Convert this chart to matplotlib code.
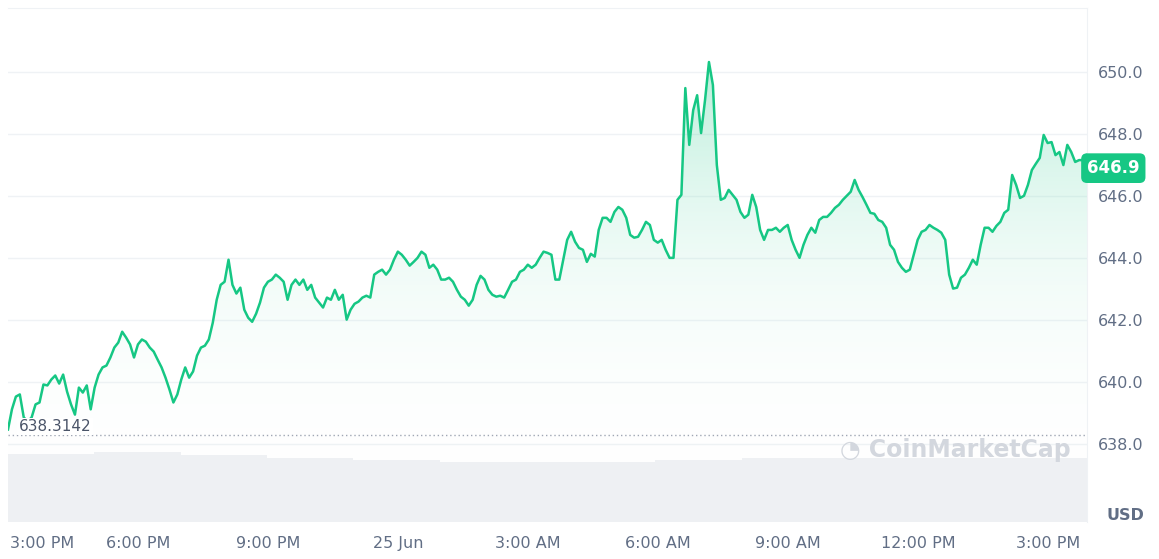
import numpy as np
import matplotlib.pyplot as plt
from matplotlib.patches import Polygon

# price samples, evenly spaced over the ~25h window
price = [638.48, 639.13, 639.54, 639.61, 638.87, 638.74, 638.87, 639.29, 639.35, 639.93,
         639.90, 640.09, 640.22, 639.96, 640.25, 639.70, 639.29, 638.96, 639.83, 639.67,
         639.90, 639.13, 639.83, 640.25, 640.48, 640.54, 640.80, 641.12, 641.28, 641.63,
         641.44, 641.22, 640.80, 641.22, 641.38, 641.31, 641.12, 640.99, 640.73, 640.48,
         640.15, 639.77, 639.35, 639.61, 640.09, 640.48, 640.15, 640.35, 640.86, 641.12,
         641.18, 641.38, 641.92, 642.66, 643.14, 643.24, 643.95, 643.14, 642.86, 643.05,
         642.34, 642.08, 641.95, 642.21, 642.57, 643.05, 643.24, 643.31, 643.47, 643.37,
         643.24, 642.66, 643.14, 643.31, 643.14, 643.31, 642.98, 643.14, 642.73, 642.57,
         642.41, 642.73, 642.66, 642.98, 642.66, 642.82, 642.02, 642.34, 642.53, 642.60,
         642.73, 642.79, 642.73, 643.47, 643.56, 643.63, 643.47, 643.63, 643.95, 644.21,
         644.11, 643.95, 643.76, 643.88, 644.01, 644.21, 644.11, 643.69, 643.79, 643.63,
         643.31, 643.31, 643.37, 643.24, 642.98, 642.76, 642.66, 642.47, 642.66, 643.14,
         643.43, 643.31, 642.98, 642.82, 642.76, 642.79, 642.73, 642.98, 643.24, 643.31,
         643.56, 643.63, 643.79, 643.69, 643.79, 644.01, 644.21, 644.17, 644.11, 643.31,
         643.31, 643.95, 644.59, 644.85, 644.53, 644.33, 644.27, 643.88, 644.14, 644.05,
         644.91, 645.30, 645.30, 645.17, 645.49, 645.65, 645.56, 645.30, 644.75, 644.66,
         644.69, 644.91, 645.17, 645.07, 644.59, 644.50, 644.59, 644.27, 644.01, 644.01,
         645.88, 646.04, 649.48, 647.65, 648.77, 649.25, 648.03, 649.09, 650.32, 649.58,
         647.00, 645.88, 645.94, 646.20, 646.04, 645.88, 645.49, 645.30, 645.40, 646.04,
         645.65, 644.91, 644.59, 644.91, 644.91, 644.98, 644.85, 644.98, 645.07, 644.59,
         644.27, 644.01, 644.43, 644.75, 644.98, 644.82, 645.23, 645.33, 645.33, 645.46,
         645.62, 645.72, 645.88, 646.01, 646.14, 646.52, 646.20, 645.97, 645.72, 645.46,
         645.43, 645.23, 645.17, 644.98, 644.43, 644.27, 643.88, 643.69, 643.56, 643.63,
         644.11, 644.59, 644.85, 644.91, 645.07, 644.98, 644.91, 644.82, 644.59, 643.47,
         643.02, 643.05, 643.37, 643.47, 643.69, 643.95, 643.79, 644.43, 644.98, 644.98,
         644.85, 645.04, 645.17, 645.46, 645.56, 646.68, 646.36, 645.94, 646.01, 646.36,
         646.84, 647.04, 647.23, 647.97, 647.71, 647.74, 647.32, 647.42, 647.00, 647.65,
         647.42, 647.10, 647.16, 647.16, 647.32]

# volume level (relative), step segments across the window
volume = [1.00, 1.00, 1.03, 1.03, 0.99, 0.99, 0.95, 0.95, 0.92, 0.92,
          0.89, 0.89, 0.89, 0.89, 0.89, 0.92, 0.92, 0.94, 0.94, 0.94,
          0.94, 0.94, 0.94, 0.94, 0.94]

yticks = [638.0, 640.0, 642.0, 644.0, 646.0, 648.0, 650.0]
xtick_labels = ["3:00 PM", "6:00 PM", "9:00 PM", "25 Jun", "3:00 AM",
                "6:00 AM", "9:00 AM", "12:00 PM", "3:00 PM"]
open_price = 638.3142
last_price = 646.9

GREEN = "#16c784"
GREY = "#616e85"

hours = np.linspace(0, 24.9, len(price))
ymin, ymax = 635.5, 652.06

fig = plt.figure(figsize=(11.59, 5.59), dpi=100)
ax = fig.add_axes([8 / 1159, 37 / 559, 1079 / 1159, 514 / 559])
ax.set_xlim(0, 24.9)
ax.set_ylim(ymin, ymax)

# volume on its own scale, bottom strip
vax = ax.twinx()
vax.set_ylim(0, 7.6)
vh = np.linspace(0, 24.9, len(volume) + 1)
vax.fill_between(vh, np.append(volume, volume[-1]), step="post", color="#eef0f3", lw=0)
vax.set_yticks([])
for s in vax.spines.values():
    s.set_visible(False)
ax.set_zorder(vax.get_zorder() + 1)
ax.patch.set_visible(False)

# gradient fill under the line
grad = np.linspace(0, 1, 256).reshape(-1, 1) ** 1.3
img = ax.imshow(grad, extent=[0, 24.9, ymin, ymax], origin="lower", aspect="auto",
                cmap=plt.matplotlib.colors.LinearSegmentedColormap.from_list(
                    "g", [(1, 1, 1, 0), (0.09, 0.78, 0.52, 0.4)]),
                vmin=0, vmax=1, zorder=1)
poly = Polygon(np.column_stack([np.r_[hours, hours[-1], hours[0]],
                                np.r_[price, ymin, ymin]]), closed=True,
               transform=ax.transData, fc="none", ec="none")
ax.add_patch(poly)
img.set_clip_path(poly)

ax.plot(hours, price, color=GREEN, lw=1.8, zorder=3)
ax.axhline(open_price, color="#a0a7b4", lw=1, ls=(0, (1, 2)), zorder=2)
ax.text(0.25, open_price + 0.02, f"{open_price}", color="#4a5468", fontsize=11,
        va="bottom", ha="left", bbox=dict(fc="white", ec="none", pad=1), zorder=4)

for y in yticks:
    ax.axhline(y, color="#eff2f5", lw=1, zorder=0)

ax.set_yticks(yticks)
ax.yaxis.tick_right()
ax.set_yticklabels([f"{y:.1f}" for y in yticks])
ax.tick_params(axis="y", length=0, pad=8, labelsize=11.5, labelcolor=GREY)
ax.set_xticks([0.78, 3, 6, 9, 12, 15, 18, 21, 24])
ax.set_xticklabels(xtick_labels)
ax.tick_params(axis="x", length=0, pad=10, labelsize=11.5, labelcolor=GREY)

for side in ["left", "bottom"]:
    ax.spines[side].set_visible(False)
ax.spines["top"].set_color("#eff2f5")
ax.spines["right"].set_color("#eff2f5")

ax.text(1.0, last_price, f"{last_price}", transform=ax.get_yaxis_transform(),
        ha="left", va="center", color="white", fontsize=12, fontweight="bold",
        bbox=dict(boxstyle="round,pad=0.35", fc=GREEN, ec="none"), zorder=5,
        clip_on=False)
fig.text(1125 / 1159, 1 - 516 / 559, "USD", ha="center", va="center",
         color=GREY, fontsize=11.5, fontweight="bold")
ax.text(0.985, 0.14, "◔ CoinMarketCap", transform=ax.transAxes, ha="right", va="center",
        color="#d3d7de", fontsize=17, fontweight="bold", zorder=2)

fig.savefig("out.png", dpi=100)
